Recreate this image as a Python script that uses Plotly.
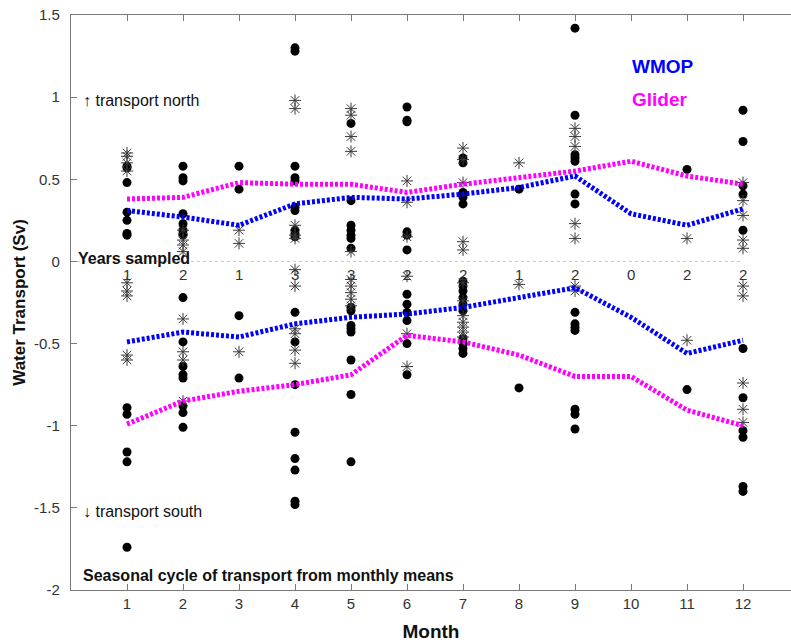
import plotly.graph_objects as go

months = list(range(1, 13))
years_sampled = [1, 2, 1, 3, 3, 2, 2, 1, 2, 0, 2, 2]

wmop_north = [0.31, 0.27, 0.22, 0.35, 0.39, 0.38, 0.41, 0.45, 0.52, 0.29, 0.22, 0.32]
glider_north = [0.38, 0.39, 0.48, 0.47, 0.47, 0.42, 0.47, 0.51, 0.55, 0.61, 0.52, 0.47]
wmop_south = [-0.49, -0.43, -0.46, -0.38, -0.34, -0.32, -0.28, -0.22, -0.16, -0.34, -0.56, -0.48]
glider_south = [-0.99, -0.85, -0.79, -0.75, -0.69, -0.45, -0.49, -0.57, -0.70, -0.70, -0.905, -1.0]

# individual monthly values: filled dots
dot_month = ([1]*12 + [2]*16 + [3]*4 + [4]*18 + [5]*15 + [6]*12 + [7]*15 + [8]*2 + [9]*14 + [11]*2 + [12]*11)
dot_value = [
    0.58, 0.57, 0.48, 0.30, 0.25, 0.17, 0.16, -0.89, -0.93, -1.16, -1.22, -1.74,
    0.58, 0.51, 0.49, 0.29, 0.23, 0.19, 0.17, 0.16, -0.22, -0.49, -0.64, -0.69, -0.71, -0.88, -0.92, -1.01,
    0.58, 0.44, -0.33, -0.71,
    1.30, 1.28, 0.58, 0.51, 0.49, 0.33, 0.31, 0.19, 0.17, 0.15, -0.31, -0.49, -0.75, -1.04, -1.20, -1.27, -1.46, -1.48,
    0.84, 0.37, 0.22, 0.19, 0.16, 0.14, 0.08, -0.28, -0.30, -0.39, -0.41, -0.43, -0.60, -0.81, -1.22,
    0.94, 0.86, 0.85, 0.18, 0.16, 0.07, -0.20, -0.26, -0.31, -0.36, -0.50, -0.69,
    0.63, 0.60, 0.42, 0.39, 0.35, -0.12, -0.15, -0.18, -0.22, -0.26, -0.30, -0.47, -0.50, -0.53, -0.56,
    0.44, -0.77,
    1.42, 0.89, 0.65, 0.63, 0.61, 0.41, 0.35, -0.31, -0.38, -0.40, -0.42, -0.90, -0.93, -1.02,
    0.56, -0.78,
    0.92, 0.73, 0.46, 0.41, 0.19, -0.53, -0.83, -1.03, -1.07, -1.37, -1.40,
]

# individual monthly values: asterisks
star_month = ([1]*9 + [2]*8 + [3]*3 + [4]*11 + [5]*10 + [6]*6 + [7]*12 + [8]*2 + [9]*7 + [11]*2 + [12]*10)
star_value = [
    0.66, 0.64, 0.60, 0.55, -0.13, -0.18, -0.21, -0.57, -0.60,
    0.19, 0.13, 0.10, 0.06, -0.35, -0.55, -0.60, -0.85,
    0.19, 0.11, -0.55,
    0.98, 0.93, 0.22, 0.16, 0.14, -0.05, -0.15, -0.41, -0.44, -0.54, -0.62,
    0.93, 0.89, 0.76, 0.67, 0.06, -0.11, -0.15, -0.19, -0.23, -0.27,
    0.49, 0.36, 0.15, -0.09, -0.44, -0.64,
    0.69, 0.62, 0.48, 0.12, 0.07, -0.13, -0.24, -0.33, -0.37, -0.40, -0.43, -0.46,
    0.60, -0.14,
    0.81, 0.76, 0.70, 0.23, 0.14, -0.15, -0.18,
    0.14, -0.48,
    0.48, 0.37, 0.28, 0.13, 0.08, -0.15, -0.21, -0.74, -0.90, -0.98,
]

y_tickvals = [1.5, 1, 0.5, 0, -0.5, -1, -1.5, -2]
y_ticktext = ["1.5", "1", "0.5", "0", "-0.5", "-1", "-1.5", "-2"]

FONT = "Liberation Sans, Arial, Helvetica, sans-serif"
BLUE = "#0000ff"
MAGENTA = "#ff00ff"
STAR = "#3a3a3a"
AXIS = "#7a7a7a"

fig = go.Figure()

fig.add_shape(type="line", xref="x", yref="y", x0=0, x1=12, y0=0, y1=0,
              line=dict(color="#c8c8c8", width=1, dash="dot"), layer="below")

fig.add_trace(go.Scatter(x=dot_month, y=dot_value, mode="markers",
                         marker=dict(symbol="circle", size=9, color="black"),
                         showlegend=False))
fig.add_trace(go.Scatter(x=star_month, y=star_value, mode="markers",
                         marker=dict(symbol="asterisk-open", size=10, color=STAR,
                                     line=dict(color=STAR, width=1)),
                         showlegend=False))

for vals, col in [(glider_north, MAGENTA), (wmop_north, BLUE),
                  (glider_south, MAGENTA), (wmop_south, BLUE)]:
    fig.add_trace(go.Scatter(x=months, y=vals, mode="lines",
                             line=dict(color=col, width=5, dash="3px,2px"),
                             showlegend=False))

for m, n in zip(months, years_sampled):
    fig.add_annotation(x=m, y=-0.08, text=str(n), showarrow=False,
                       font=dict(family=FONT, size=15, color="#333333"))

fig.add_annotation(x=0.09, y=0.02, text="<b>Years sampled</b>", showarrow=False,
                   xanchor="left", font=dict(family=FONT, size=16, color="#111111"))
fig.add_annotation(x=0.17, y=0.98, text="\u2191 transport north", showarrow=False,
                   xanchor="left", font=dict(family=FONT, size=16, color="#111111"))
fig.add_annotation(x=0.17, y=-1.52, text="\u2193 transport south", showarrow=False,
                   xanchor="left", font=dict(family=FONT, size=16, color="#111111"))
fig.add_annotation(x=0.17, y=-1.91, text="<b>Seasonal cycle of transport from monthly means</b>",
                   showarrow=False, xanchor="left",
                   font=dict(family=FONT, size=16, color="#111111"))
fig.add_annotation(x=9.98, y=1.185, text="<b>WMOP</b>", showarrow=False, xanchor="left",
                   font=dict(family=FONT, size=19, color=BLUE))
fig.add_annotation(x=9.98, y=0.985, text="<b>Glider</b>", showarrow=False, xanchor="left",
                   font=dict(family=FONT, size=19, color=MAGENTA))

fig.update_layout(
    width=791, height=642,
    margin=dict(l=71, r=0, t=15, b=52),
    plot_bgcolor="white", paper_bgcolor="white",
    font=dict(family=FONT, size=15, color="#333333"),
    xaxis=dict(range=[0, 12.857], tickvals=months, ticktext=[str(m) for m in months],
               ticks="inside", ticklen=6, tickcolor=AXIS,
               showline=True, linecolor=AXIS, linewidth=1.3, mirror="ticks",
               showgrid=False, zeroline=False,
               title=dict(text="<b>Month</b>", font=dict(family=FONT, size=19, color="#111111"),
                          standoff=14),
               tickfont=dict(family=FONT, size=15, color="#333333")),
    yaxis=dict(range=[-2, 1.5], tickvals=y_tickvals, ticktext=y_ticktext,
               ticks="inside", ticklen=6, tickcolor=AXIS,
               showline=True, linecolor=AXIS, linewidth=1.3, mirror=False,
               showgrid=False, zeroline=False, ticklabelstandoff=7,
               ticklabeloverflow="allow",
               title=dict(text="<b>Water Transport (Sv)</b>",
                          font=dict(family=FONT, size=17, color="#111111"), standoff=4),
               tickfont=dict(family=FONT, size=15, color="#333333")),
)

fig.write_html("out.html", config={"displayModeBar": False},
               post_script="document.body.style.margin='0';document.body.style.overflow='hidden';")
